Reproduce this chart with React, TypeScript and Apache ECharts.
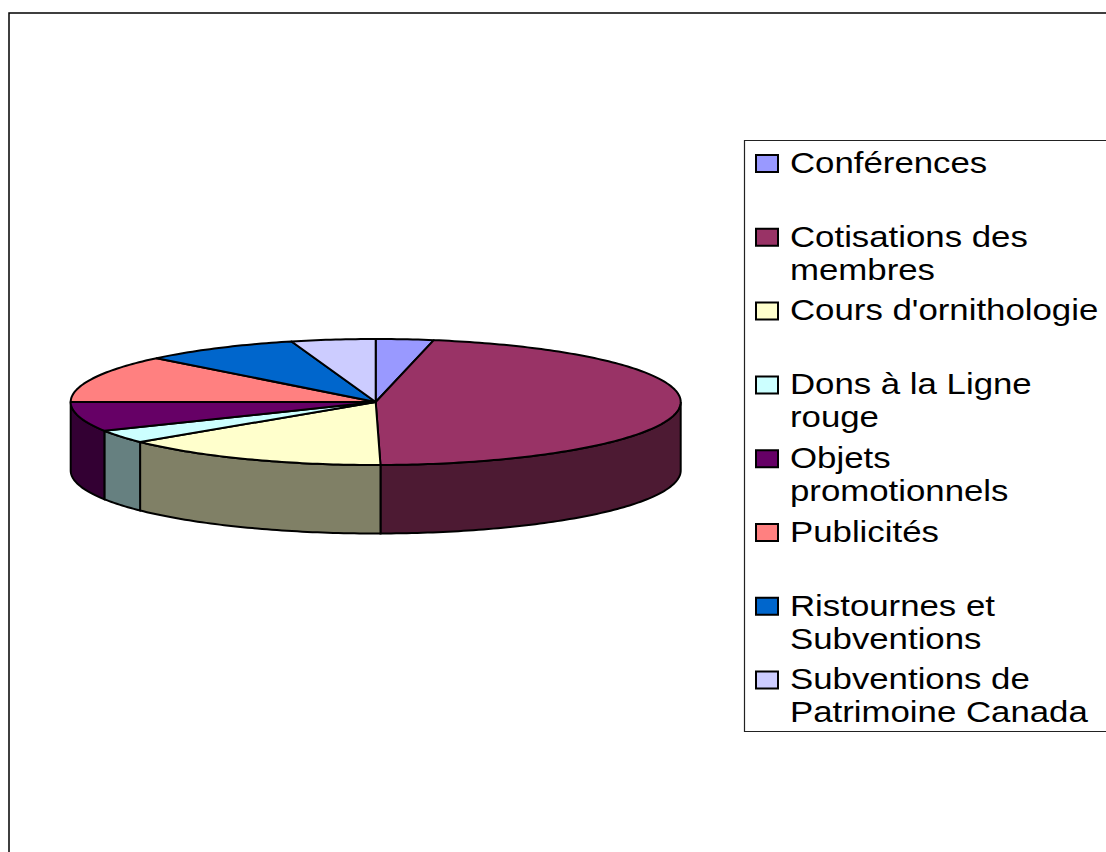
import React, { useEffect, useRef } from "react";
import * as echarts from "echarts";

const categories = [
  "Conférences",
  "Cotisations des\nmembres",
  "Cours d'ornithologie",
  "Dons à la Ligne\nrouge",
  "Objets\npromotionnels",
  "Publicités",
  "Ristournes et\nSubventions",
  "Subventions de\nPatrimoine Canada",
];
const values = [3.05, 46.7, 14.3, 3.4, 7.6, 12.2, 8.3, 4.45];
const topColors = ["#9999FF", "#993366", "#FFFFCC", "#CCFFFF", "#660066", "#FF8080", "#0066CC", "#CCCCFF"];
const sideColors = ["#4D4D80", "#4D1A33", "#808066", "#668080", "#330033", "#804040", "#003366", "#666680"];

const WIDTH = 1106;
const HEIGHT = 852;
const CX = 375.7;
const CY = 402;
const RX = 305;
const RY = 63;
const DEPTH = 68.5;
const FONT = '"Liberation Sans", Arial, sans-serif';

const total = values.reduce((a, b) => a + b, 0);
const rim = (deg: number, drop = 0): number[] => {
  const t = (deg * Math.PI) / 180;
  return [CX + RX * Math.sin(t), CY - RY * Math.cos(t) + drop];
};
const arcPoints = (from: number, to: number, drop = 0): number[][] => {
  const pts: number[][] = [];
  const steps = Math.max(1, Math.ceil(to - from));
  for (let k = 0; k <= steps; k++) pts.push(rim(from + ((to - from) * k) / steps, drop));
  return pts;
};

function renderSlice(params: any) {
  const i = params.dataIndex;
  const start = (values.slice(0, i).reduce((a, b) => a + b, 0) / total) * 360;
  const end = start + (values[i] / total) * 360;
  const children: any[] = [];
  const wallFrom = Math.max(start, 90);
  const wallTo = Math.min(end, 270);
  if (wallTo > wallFrom) {
    children.push({
      type: "polygon",
      shape: {
        points: [...arcPoints(wallFrom, wallTo), ...arcPoints(wallFrom, wallTo, DEPTH).reverse()],
      },
      style: { fill: sideColors[i], stroke: "#000", lineWidth: 2 },
    });
  }
  children.push({
    type: "polygon",
    shape: { points: [[CX, CY], ...arcPoints(start, end)] },
    style: { fill: topColors[i], stroke: "#000", lineWidth: 2, lineJoin: "round" },
  });
  return { type: "group", children };
}

const LEGEND_TOP = 162;
const LEGEND_PITCH = 73.8;

const legendGraphics: any[] = categories.flatMap((label, i) => {
  const y = LEGEND_TOP + i * LEGEND_PITCH;
  return [
    {
      type: "rect",
      shape: { x: 756, y: y - 7, width: 22, height: 17 },
      style: { fill: topColors[i], stroke: "#000", lineWidth: 2 },
    },
    {
      type: "text",
      x: 790,
      y: y - 15.7,
      scaleX: 1.2,
      style: {
        text: label,
        font: `29px ${FONT}`,
        lineHeight: 33,
        fill: "#000",
        align: "left",
        verticalAlign: "top",
      },
    },
  ];
});

export default function App() {
  const ref = useRef<HTMLDivElement>(null);
  useEffect(() => {
    document.body.style.margin = "0";
    const chart = echarts.init(ref.current!, undefined, { renderer: "svg" });
    chart.setOption({
      animation: false,
      backgroundColor: "#fff",
      series: [
        {
          type: "custom",
          coordinateSystem: "none",
          renderItem: renderSlice,
          data: values,
          silent: true,
          clip: false,
        },
      ],
      graphic: [
        {
          type: "rect",
          z: -1,
          shape: { x: 9, y: 13, width: WIDTH + 20, height: HEIGHT + 20 },
          style: { fill: "#fff", stroke: "#000", lineWidth: 1.5 },
        },
        {
          type: "rect",
          shape: { x: 744.5, y: 140.5, width: WIDTH, height: 591 },
          style: { fill: "#fff", stroke: "#222", lineWidth: 1.2 },
        },
        ...legendGraphics,
      ],
    });
    return () => chart.dispose();
  }, []);
  return <div ref={ref} style={{ width: WIDTH, height: HEIGHT, overflow: "hidden" }} />;
}
